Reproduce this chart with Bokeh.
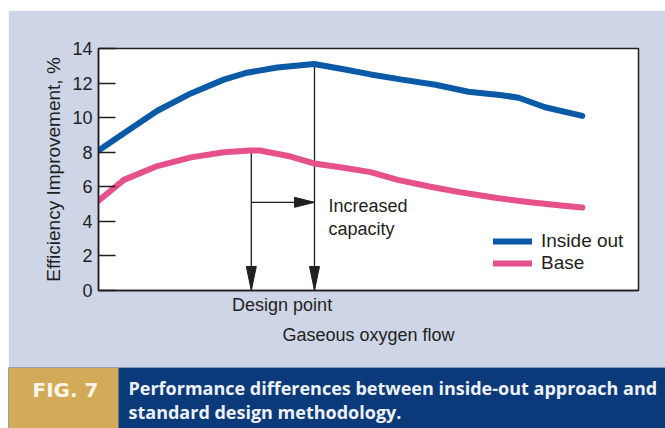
from bokeh.plotting import figure
from bokeh.models import Range1d, Label, Legend, LegendItem, FixedTicker
from bokeh.layouts import column
from bokeh.embed import file_html
from bokeh.resources import INLINE

# ---- data ----
x_inside = [0, 4.7, 10.9, 17.1, 23.2, 27.5, 33.1, 39.9, 45.4, 50.4, 56.2, 62.4, 68.5, 74.7, 77.8, 82.7, 89.6]
y_inside = [8.1, 9.1, 10.4, 11.4, 12.2, 12.6, 12.9, 13.1, 12.8, 12.5, 12.2, 11.9, 11.5, 11.3, 11.15, 10.6, 10.1]
x_base = [0, 4.7, 10.9, 17.1, 23.2, 28.1, 29.9, 35.6, 39.9, 45.4, 50.4, 55.4, 61.5, 67.6, 73.8, 79.9, 86.1, 89.6]
y_base = [5.2, 6.4, 7.2, 7.7, 8.0, 8.1, 8.1, 7.75, 7.35, 7.1, 6.85, 6.4, 6.0, 5.65, 5.35, 5.1, 4.9, 4.8]
y_ticks = [0, 2, 4, 6, 8, 10, 12, 14]
series_names = ["Inside out", "Base"]

design_x = 28.3        # design point flow
design_y = 8.1         # base peak
capacity_x = 40.0      # increased capacity flow
capacity_y = 13.1      # inside-out peak
shift_y = 5.1          # level of horizontal arrow

y_label = "Efficiency Improvement, %"
x_label = "Gaseous oxygen flow"
design_label = "Design point"
capacity_label = ["Increased", "capacity"]
fig_tag = "FIG. 7"
caption_lines = ["Performance differences between inside-out approach and",
                 "standard design methodology."]

# ---- style ----
PANEL = "#cdd5e7"
BLUE = "#0b5aa8"
PINK = "#e6508b"
GOLD = "#d3aa57"
NAVY = "#0b3a7a"
INK = "#231f20"
FONT = "Liberation Sans"

OFF_X, OFF_Y = 8, 10             # white page margin around the panel
W = 665 - OFF_X
H_PLOT = 367 - OFF_Y
H_CAP = 428 - 367
# frame edges in page px
F_LEFT, F_RIGHT, F_TOP, F_BOTTOM = 98, 638, 48, 290
X0, X1, Y0, Y1 = 0, 100, 0, 14

px_x = (F_RIGHT - F_LEFT) / (X1 - X0)
px_y = (F_BOTTOM - F_TOP) / (Y1 - Y0)


def dx(px):
    return X0 + (px - F_LEFT) / px_x


def dy(py):
    return Y0 + (F_BOTTOM - py) / px_y


p = figure(width=W, height=H_PLOT, output_backend="svg", toolbar_location=None,
           x_range=Range1d(X0, X1), y_range=Range1d(Y0, Y1),
           min_border_left=F_LEFT - OFF_X, min_border_right=665 - F_RIGHT,
           min_border_top=F_TOP - OFF_Y, min_border_bottom=367 - F_BOTTOM,
           margin=(OFF_Y, 0, 0, OFF_X))
p.frame_align = False
p.background_fill_color = "white"
p.border_fill_color = PANEL
p.outline_line_color = INK
p.outline_line_width = 1.5
p.grid.visible = False

ya = p.yaxis[0]
ya.ticker = FixedTicker(ticks=y_ticks)
ya.major_tick_in = 17
ya.major_tick_out = 0
ya.minor_tick_line_color = None
ya.major_tick_line_color = INK
ya.major_tick_line_width = 1.5
ya.axis_line_color = INK
ya.axis_line_width = 1.5
ya.major_label_text_font = FONT
ya.major_label_text_font_size = "18px"
ya.major_label_text_color = INK
ya.major_label_standoff = 6
ya.axis_label = y_label
ya.axis_label_text_font = FONT
ya.axis_label_text_font_size = "19px"
ya.axis_label_text_font_style = "normal"
ya.axis_label_text_color = INK
ya.axis_label_standoff = 5

# x axis: no scale, only the design point marker label and the axis title
design_tick = round((design_x + capacity_x) / 2)
xa = p.xaxis[0]
xa.ticker = FixedTicker(ticks=[design_tick])
xa.major_label_overrides = {design_tick: design_label}
xa.major_tick_line_color = None
xa.minor_tick_line_color = None
xa.major_tick_in = 0
xa.major_tick_out = 0
xa.axis_line_color = INK
xa.axis_line_width = 1.5
xa.major_label_text_font = FONT
xa.major_label_text_font_size = "18px"
xa.major_label_text_color = INK
xa.major_label_standoff = 4
xa.axis_label = x_label
xa.axis_label_text_font = FONT
xa.axis_label_text_font_size = "18px"
xa.axis_label_text_font_style = "normal"
xa.axis_label_text_color = INK
xa.axis_label_standoff = 7

# annotation lines
p.line([design_x, design_x], [design_y, 0], line_color=INK, line_width=1.3)
p.line([capacity_x, capacity_x], [capacity_y, 0], line_color=INK, line_width=1.3)
p.line([design_x, capacity_x], [shift_y, shift_y], line_color=INK, line_width=1.3)

# arrowheads (sizes in px converted to data units)
hl, hw = 24 / px_y, 5 / px_x
vx = [[design_x - hw, design_x + hw, design_x], [capacity_x - hw, capacity_x + hw, capacity_x]]
vy = [[hl, hl, 0], [hl, hl, 0]]
hl2, hw2 = 20 / px_x, 5 / px_y
hx = [[capacity_x - hl2, capacity_x - hl2, capacity_x]]
hy = [[shift_y - hw2, shift_y + hw2, shift_y]]
p.patches(vx + hx, vy + hy, fill_color=INK, line_color=INK)

r1 = p.line(x_inside, y_inside, line_color=BLUE, line_width=6, line_cap="round", line_join="round")
r2 = p.line(x_base, y_base, line_color=PINK, line_width=6, line_cap="round", line_join="round")

legend = Legend(items=[LegendItem(label=series_names[0], renderers=[r1]),
                       LegendItem(label=series_names[1], renderers=[r2])],
                location=(493 - F_LEFT, F_BOTTOM - 274))
legend.background_fill_alpha = 0
legend.border_line_alpha = 0
legend.padding = 0
legend.margin = 0
legend.spacing = 0
legend.glyph_width = 39
legend.glyph_height = 22
legend.label_height = 22
legend.label_standoff = 9
legend.label_text_font = FONT
legend.label_text_font_size = "19px"
legend.label_text_color = INK
p.add_layout(legend)

lbl = dict(text_font=FONT, text_color=INK, text_baseline="middle", text_align="left",
           text_font_size="18px")
p.add_layout(Label(x=dx(328), y=dy(205), text=capacity_label[0], **lbl))
p.add_layout(Label(x=dx(328), y=dy(228), text=capacity_label[1], **lbl))

# ---- caption band ----
GOLD_W = 118 - OFF_X
c = figure(width=W, height=H_CAP, output_backend="svg", toolbar_location=None,
           x_range=Range1d(0, W), y_range=Range1d(0, H_CAP),
           x_axis_type=None, y_axis_type=None, min_border=0,
           margin=(0, 0, 0, OFF_X))
c.frame_align = False
c.grid.visible = False
c.outline_line_color = None
c.background_fill_color = NAVY
c.border_fill_color = NAVY
c.quad(left=[0], right=[GOLD_W], bottom=[0], top=[H_CAP], fill_color=GOLD, line_color=None)


def cx(px):
    return px - OFF_X


def cy(py):
    return H_CAP - (py - 367)


c.add_layout(Label(x=cx(65), y=cy(389), text=fig_tag, text_font="DejaVu Sans",
                   text_font_size="20px", text_font_style="bold", text_color="#fbf6ec",
                   text_align="center", text_baseline="middle"))
c.add_layout(Label(x=cx(128), y=cy(387), text=caption_lines[0], text_font="Open Sans",
                   text_font_size="18px", text_font_style="bold", text_color="#eef2f8",
                   text_align="left", text_baseline="middle"))
c.add_layout(Label(x=cx(128), y=cy(411), text=caption_lines[1], text_font="Open Sans",
                   text_font_size="18px", text_font_style="bold", text_color="#eef2f8",
                   text_align="left", text_baseline="middle"))

layout = column(p, c, spacing=0)
open("out.html", "w").write(file_html(layout, INLINE))
